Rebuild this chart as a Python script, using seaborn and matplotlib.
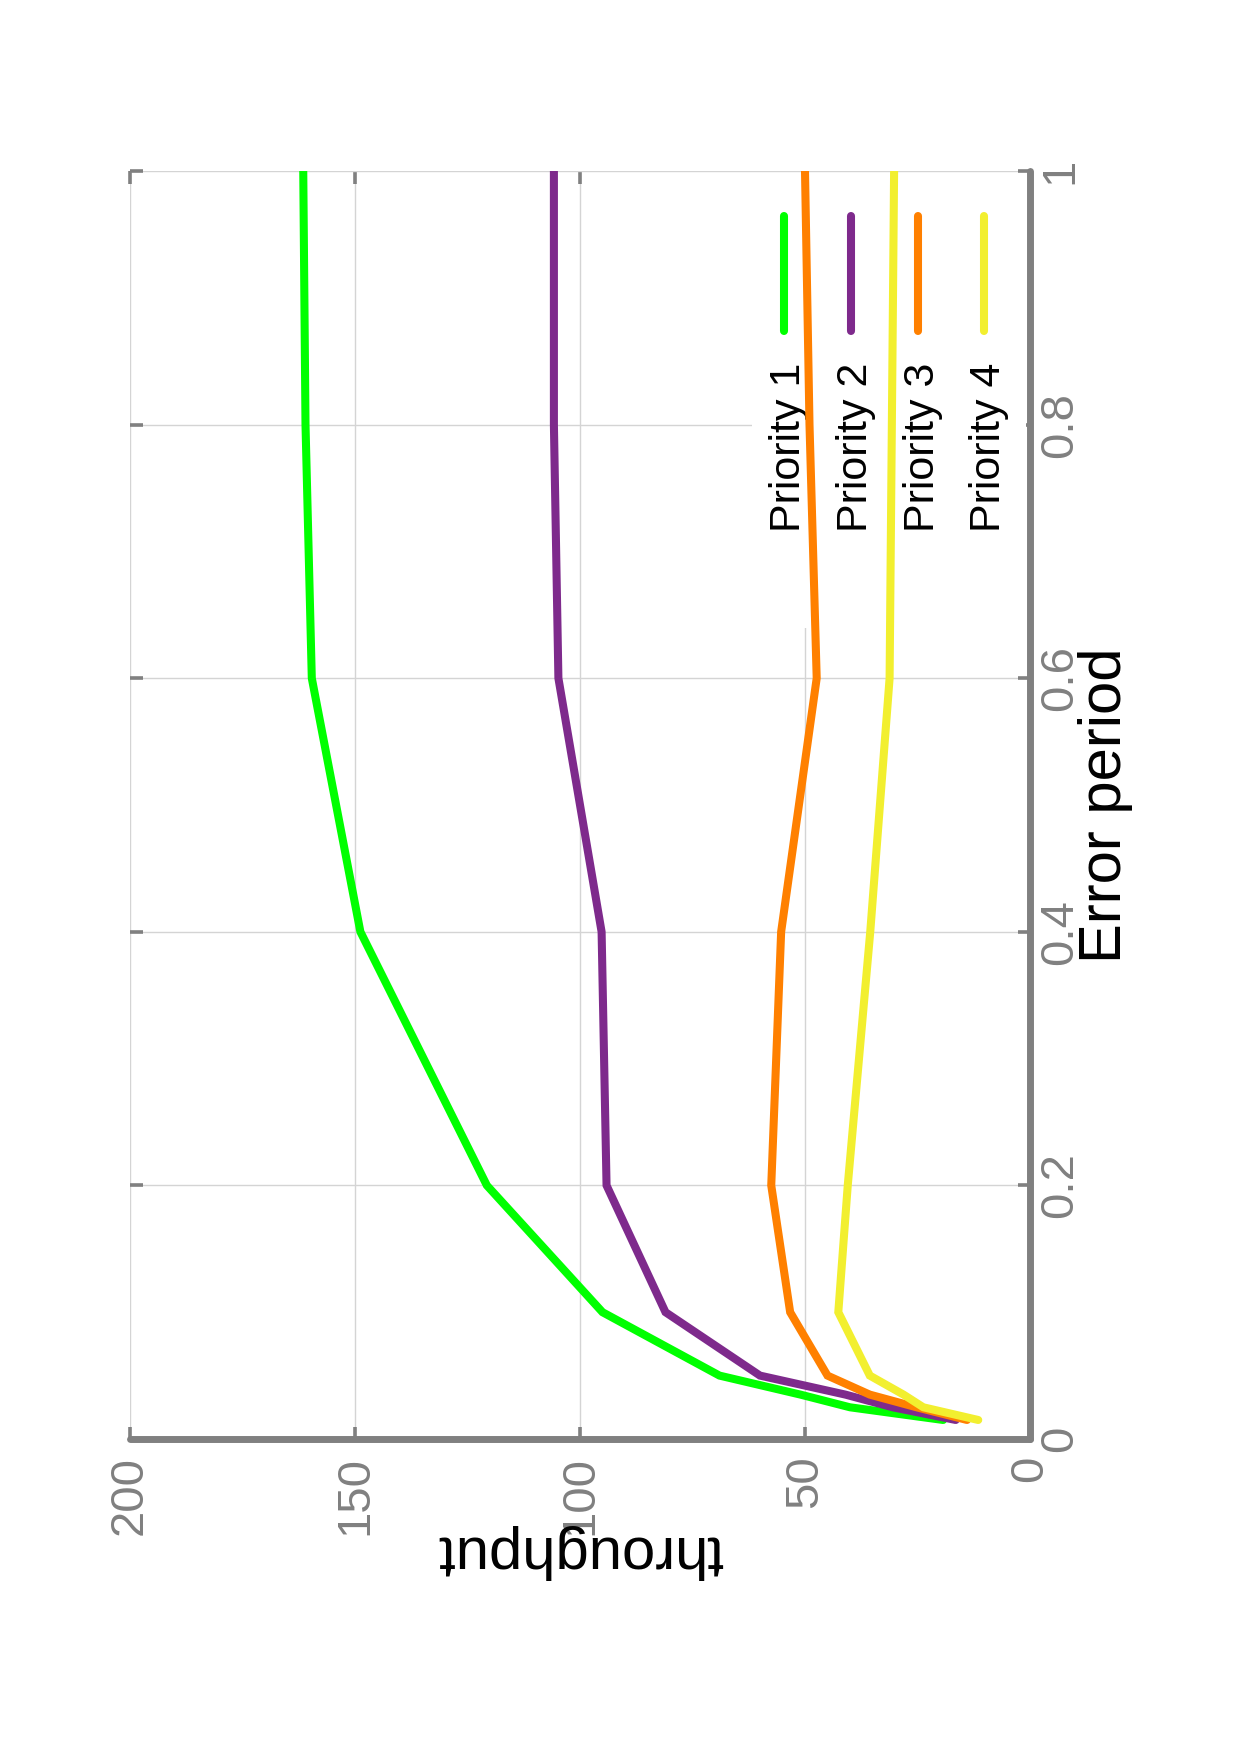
import matplotlib
matplotlib.use("Agg")
import matplotlib.pyplot as plt
import numpy as np
import pandas as pd
import seaborn as sns
from matplotlib.patches import Rectangle

# ---------------- data ----------------
error_period = [0.015, 0.025, 0.035, 0.05, 0.1, 0.2, 0.4, 0.6, 0.8, 1.0]
priority_1 = [19.3, 40.0, 51.0, 69.0, 95.0, 120.7, 148.8, 159.6, 161.0, 161.5]
priority_2 = [16.5, 30.5, 41.0, 60.0, 81.0, 94.1, 95.2, 104.8, 105.8, 105.8]
priority_3 = [14.0, 25.2, 35.6, 45.0, 53.3, 57.5, 55.3, 47.4, 49.0, 50.0]
priority_4 = [11.5, 23.7, 28.1, 35.6, 42.6, 40.5, 35.5, 31.2, 30.7, 30.2]
series_names = ["Priority 1", "Priority 2", "Priority 3", "Priority 4"]
series_colors = ["#00ff00", "#7e2a8c", "#ff8000", "#f2ef2f"]
throughput_ticks = [0, 50, 100, 150, 200]
throughput_labels = ["0", "50", "100", "150", "200"]
period_ticks = [0, 0.2, 0.4, 0.6, 0.8, 1.0]
period_labels = ["0", "0.2", "0.4", "0.6", "0.8", "1"]
xlabel_text = "throughput"
ylabel_text = "Error period"

rows = []
for name, vals in zip(series_names, [priority_1, priority_2, priority_3, priority_4]):
    for p, t in zip(error_period, vals):
        rows.append({"series": name, "period": p, "throughput": t})
df = pd.DataFrame(rows)

# ---------------- style ----------------
sns.set_style("white")
plt.rcParams["font.family"] = ["Liberation Sans", "DejaVu Sans"]

GRAY = "#808080"
fig = plt.figure(figsize=(12.4, 17.55), dpi=100)
ax = fig.add_axes([130 / 1240, (1755 - 1439) / 1755, 900 / 1240, 1268 / 1755])
ax.set_axisbelow(True)

sns.lineplot(data=df, x="throughput", y="period", hue="series",
             palette=dict(zip(series_names, series_colors)), sort=False,
             estimator=None, linewidth=5.8, legend=False, ax=ax, zorder=3)
for ln in ax.get_lines():
    ln.set_solid_capstyle("round")
    ln.set_solid_joinstyle("miter")

ax.set_xlim(200, 0)
ax.set_ylim(0, 1)
ax.set_xticks(throughput_ticks)
ax.set_xticklabels(throughput_labels)
ax.set_yticks(period_ticks)
ax.set_yticklabels(period_labels)

ax.grid(True, color="#d4d4d4", linewidth=1.0)

for side in ["top", "left"]:
    ax.spines[side].set_visible(False)
for side in ["bottom", "right"]:
    ax.spines[side].set_visible(True)
    ax.spines[side].set_color(GRAY)
    ax.spines[side].set_linewidth(5.0)
    ax.spines[side].set_capstyle("round")

ax.yaxis.tick_right()
ax.tick_params(axis="both", which="major", direction="in", length=9, width=2.6,
               color=GRAY, labelcolor=GRAY, labelsize=34,
               top=True, bottom=True, left=True, right=True,
               labelleft=False, labelright=True, labeltop=False, labelbottom=True)
ax.tick_params(axis="x", labelrotation=90, pad=12)
ax.tick_params(axis="y", labelrotation=90, pad=6)
for lab in ax.get_yticklabels():
    lab.set_va("center")
    lab.set_ha("left")

# axis labels (rotated page)
ax.set_xlabel(xlabel_text, fontsize=43, color="black", rotation=180, va="center", ha="center")
ax.xaxis.set_label_coords(0.5, -0.089)
ax.yaxis.set_label_position("right")
ax.set_ylabel(ylabel_text, fontsize=43, color="black", rotation=90, va="center", ha="center")
ax.yaxis.set_label_coords(1.084, 0.5)

# legend (rotated): white box, vertical key lines, rotated labels
ax.add_patch(Rectangle((0.691, 0.6396), 0.305, 0.354, transform=ax.transAxes,
                       facecolor="white", edgecolor="none", zorder=1.5))
key_x = [0.727, 0.801, 0.875, 0.949]
for xk, name, col in zip(key_x, series_names, series_colors):
    ax.plot([xk, xk], [0.9645, 0.8738], transform=ax.transAxes, color=col,
            linewidth=5.8, solid_capstyle="round", zorder=1.7, clip_on=False)
    ax.text(xk + 0.0178, 0.8486, name, transform=ax.transAxes, rotation=90,
            rotation_mode="anchor", ha="right", va="baseline", fontsize=31,
            color="black", zorder=1.6)

fig.savefig("out.png", dpi=100, facecolor="white")
